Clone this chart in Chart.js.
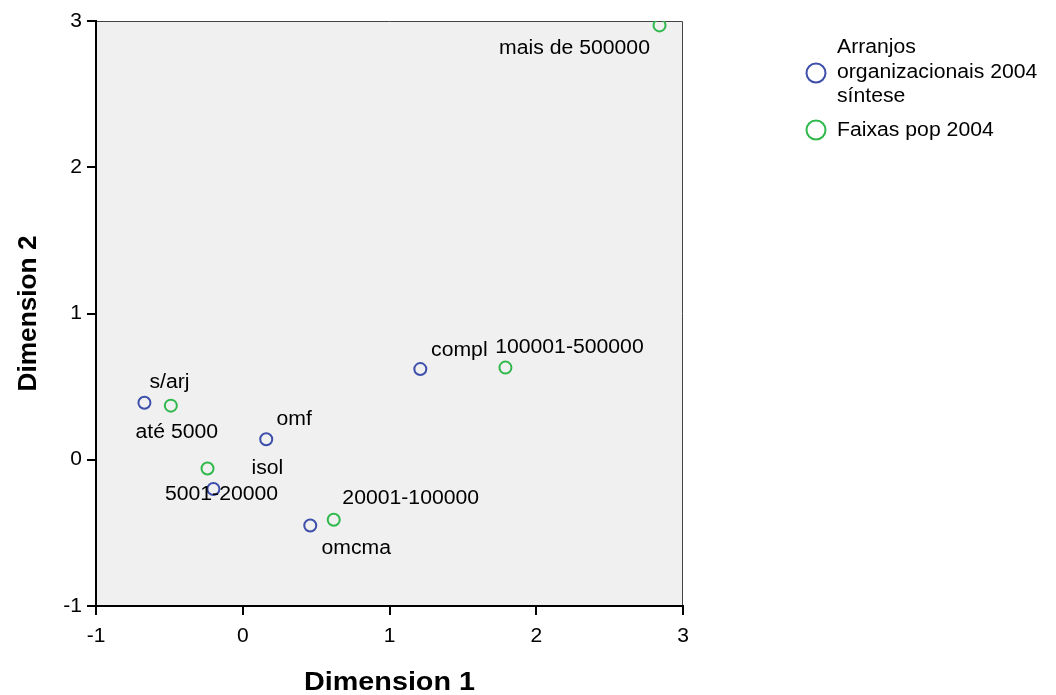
<!DOCTYPE html>
<html>
<head>
<meta charset="utf-8">
<script src="https://cdn.jsdelivr.net/npm/chart.js@4.4.1/dist/chart.umd.min.js"></script>
<style>
  html, body { margin: 0; padding: 0; background: #fff; }
  #wrap { width: 1056px; height: 695px; position: relative; }
</style>
</head>
<body>
<div id="wrap"><canvas id="chart"></canvas></div>
<script>
// Arranjos organizacionais 2004 sintese
const arrLabels = ['s/arj', 'isol', 'omf', 'omcma', 'compl'];
const arrX = [-0.67, -0.20, 0.16, 0.46, 1.21];
const arrY = [0.39, -0.20, 0.14, -0.45, 0.62];

// Faixas pop 2004
const popLabels = ['até 5000', '5001-20000', '20001-100000', '100001-500000', 'mais de 500000'];
const popX = [-0.49, -0.24, 0.62, 1.79, 2.84];
const popY = [0.37, -0.06, -0.41, 0.63, 2.97];

const ticks = [-1, 0, 1, 2, 3];

// label offsets in pixels from each point
const arrOffsets = [[25, -20], [54, -21], [28, -20], [46, 23], [39, -19]];
const popOffsets = [[6, 27], [14, 26], [77, -21], [64, -20], [-85, 23]];

const blue = '#3d4faa';
const green = '#2fb84b';
const FONT = '"Liberation Sans", Arial, sans-serif';

function pts(xs, ys) {
  return xs.map((x, i) => ({ x: x, y: ys[i] }));
}

// text is a bit wider than plain Arial in the original, stretch it
function txt(ctx, s, x, y, font, sx, align, rot) {
  ctx.save();
  ctx.translate(x, y);
  if (rot) ctx.rotate(rot);
  ctx.scale(sx, 1);
  ctx.font = font;
  ctx.textAlign = align || 'center';
  ctx.textBaseline = 'middle';
  ctx.fillStyle = '#000';
  ctx.fillText(s, 0, 0);
  ctx.restore();
}

const bgPlugin = {
  id: 'bg',
  beforeDraw(chart) {
    const { ctx, chartArea: a } = chart;
    ctx.save();
    ctx.fillStyle = '#f0f0f0';
    ctx.fillRect(a.left, a.top, a.right - a.left, a.bottom - a.top);
    ctx.strokeStyle = '#444';
    ctx.lineWidth = 1;
    ctx.beginPath();
    ctx.moveTo(a.left, a.top + 0.5);
    ctx.lineTo(a.right - 0.5, a.top + 0.5);
    ctx.lineTo(a.right - 0.5, a.bottom);
    ctx.stroke();
    ctx.restore();
  }
};

const textPlugin = {
  id: 'texts',
  afterDraw(chart) {
    const ctx = chart.ctx;
    const xs = chart.scales.x, ys = chart.scales.y;
    const tf = '20px ' + FONT;

    // tick labels
    xs.ticks.forEach(t => txt(ctx, String(t.value), xs.getPixelForValue(t.value), 636, tf, 1.05, 'center'));
    ys.ticks.forEach(t => txt(ctx, String(t.value), 82, ys.getPixelForValue(t.value), tf, 1.05, 'right'));

    // axis titles
    const bf = 'bold 25px ' + FONT;
    txt(ctx, 'Dimension 1', (xs.left + xs.right) / 2, 683, bf, 1.15, 'center');
    txt(ctx, 'Dimension 2', 29, (ys.top + ys.bottom) / 2, bf, 1.05, 'center', -Math.PI / 2);

    // point labels
    const sets = [[arrLabels, arrOffsets], [popLabels, popOffsets]];
    sets.forEach((s, di) => {
      chart.getDatasetMeta(di).data.forEach((el, i) => {
        txt(ctx, s[0][i], el.x + s[1][i][0], el.y + s[1][i][1], tf, 1.06, 'center');
      });
    });

    // legend
    ctx.save();
    ctx.lineWidth = 2;
    ctx.strokeStyle = blue;
    ctx.beginPath();
    ctx.arc(816, 73, 9.5, 0, Math.PI * 2);
    ctx.stroke();
    ctx.strokeStyle = green;
    ctx.beginPath();
    ctx.arc(816, 130, 9.5, 0, Math.PI * 2);
    ctx.stroke();
    ctx.restore();
    txt(ctx, 'Arranjos', 837, 47, tf, 1.06, 'left');
    txt(ctx, 'organizacionais 2004', 837, 72, tf, 1.06, 'left');
    txt(ctx, 'síntese', 837, 96, tf, 1.06, 'left');
    txt(ctx, 'Faixas pop 2004', 837, 130, tf, 1.06, 'left');
  }
};

const config = {
  type: 'scatter',
  data: {
    datasets: [
      {
        label: 'Arranjos organizacionais 2004 síntese',
        data: pts(arrX, arrY),
        borderColor: blue,
        backgroundColor: 'rgba(0,0,0,0)',
        borderWidth: 2,
        pointRadius: 6,
        pointHoverRadius: 6
      },
      {
        label: 'Faixas pop 2004',
        data: pts(popX, popY),
        borderColor: green,
        backgroundColor: 'rgba(0,0,0,0)',
        borderWidth: 2,
        pointRadius: 6,
        pointHoverRadius: 6
      }
    ]
  },
  options: {
    responsive: true,
    maintainAspectRatio: false,
    animation: false,
    layout: { padding: { left: 0, top: 21, right: 373, bottom: 0 } },
    plugins: {
      legend: { display: false },
      tooltip: { enabled: false }
    },
    scales: {
      x: {
        type: 'linear',
        min: -1,
        max: 3,
        afterFit(scale) { scale.height = 89; },
        afterBuildTicks(scale) { scale.ticks = ticks.map(v => ({ value: v })); },
        border: { display: true, color: '#000', width: 2 },
        grid: { drawOnChartArea: false, drawTicks: true, tickLength: 9, color: '#000', lineWidth: 2 },
        ticks: { display: false }
      },
      y: {
        type: 'linear',
        min: -1,
        max: 3,
        afterFit(scale) { scale.width = 96; },
        afterBuildTicks(scale) { scale.ticks = ticks.map(v => ({ value: v })); },
        border: { display: true, color: '#000', width: 2 },
        grid: { drawOnChartArea: false, drawTicks: true, tickLength: 9, color: '#000', lineWidth: 2 },
        ticks: { display: false }
      }
    }
  },
  plugins: [bgPlugin, textPlugin]
};

new Chart(document.getElementById('chart'), config);
</script>
</body>
</html>
